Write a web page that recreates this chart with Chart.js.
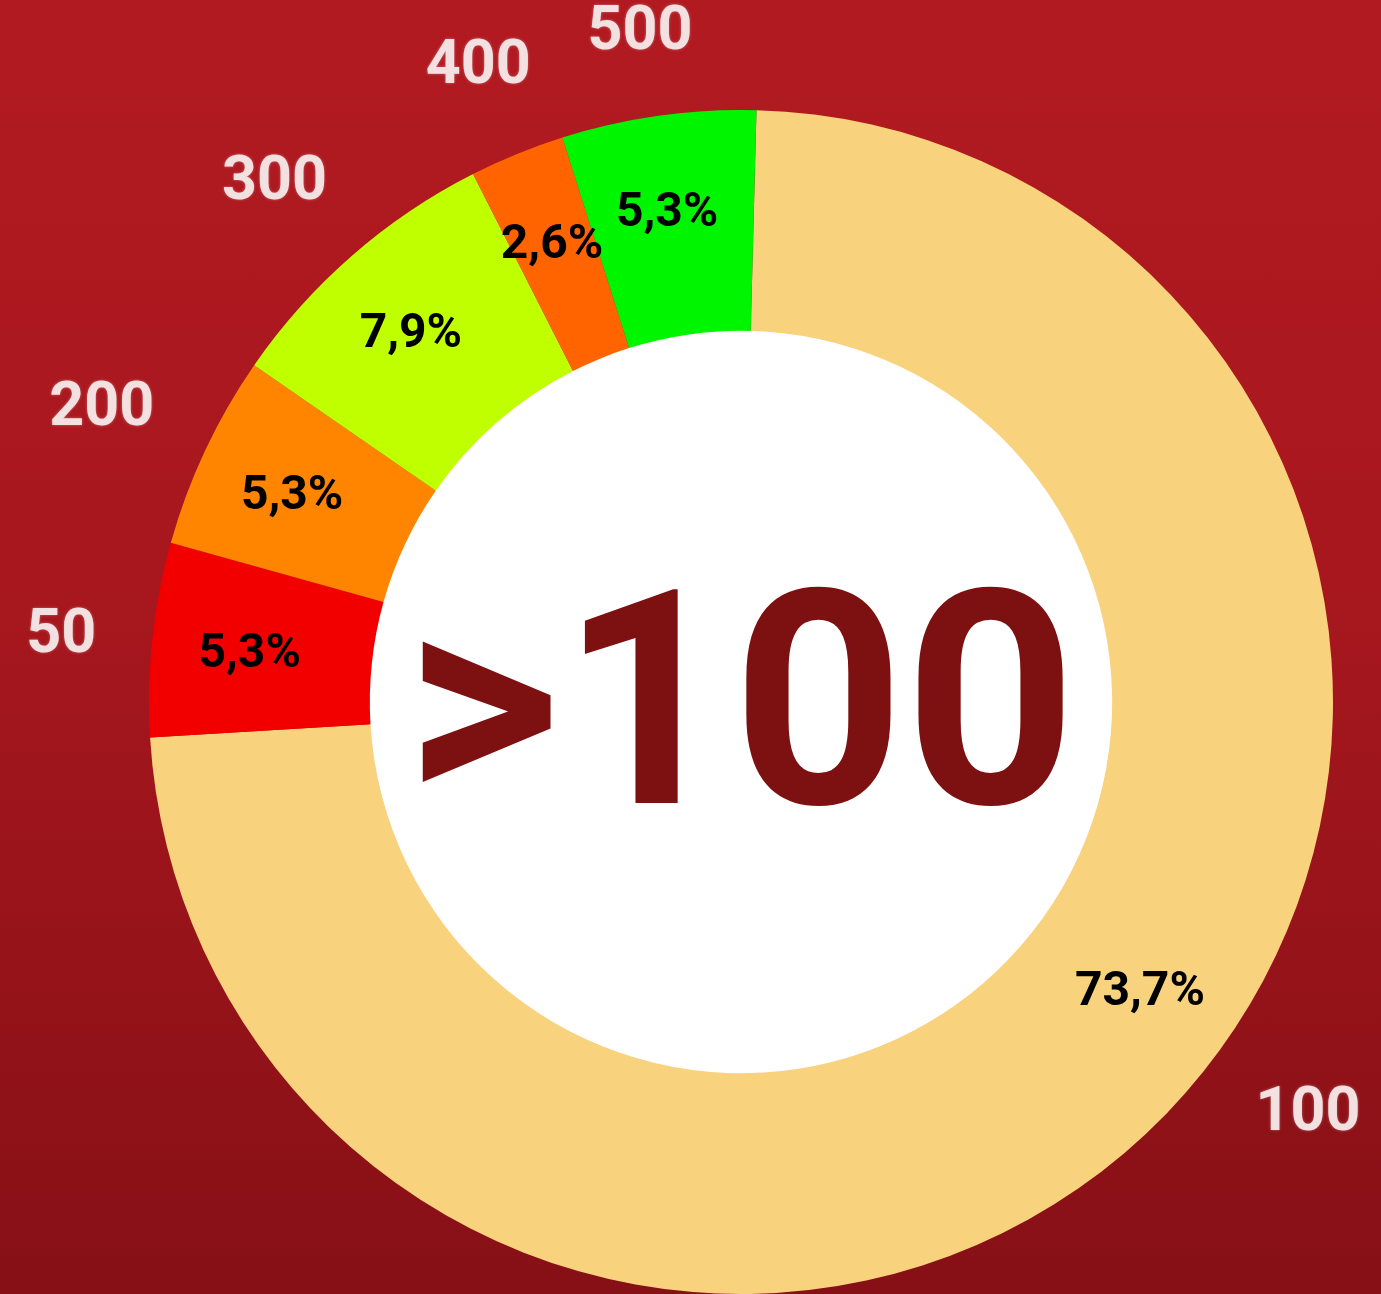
<!DOCTYPE html>
<html>
<head>
<meta charset="utf-8">
<script src="https://cdn.jsdelivr.net/npm/chart.js@4/dist/chart.umd.min.js"></script>
<style>
  html, body { margin: 0; padding: 0; }
  body {
    width: 1381px; height: 1294px; overflow: hidden;
    background: linear-gradient(to bottom, #b21a21 0%, #a8171e 45%, #861016 100%);
  }
  #wrap { position: relative; width: 1381px; height: 1294px; }
</style>
</head>
<body>
<div id="wrap"><canvas id="grafico"></canvas></div>
<script>
    // Datos
    const categorias = ['100', '50', '200', '300', '400', '500'];
    const porcentajes = [73.7, 5.3, 5.3, 7.9, 2.6, 5.3];
    const colores = ['#f8d27c', '#f20000', '#ff8500', '#bfff00', '#ff6400', '#00f500'];
    const textoCentro = '>100';

    // Circulo blanco + texto central + etiquetas
    const centro = {
      id: 'centro',
      beforeDatasetsDraw(chart) {
        const arc = chart.getDatasetMeta(0).data[0];
        const c = chart.ctx;
        c.save();
        c.beginPath();
        c.arc(arc.x, arc.y, arc.innerRadius + 1, 0, Math.PI * 2);
        c.fillStyle = '#ffffff';
        c.fill();
        c.restore();
      },
      afterDatasetsDraw(chart) {
        const meta = chart.getDatasetMeta(0);
        const c = chart.ctx;
        const a0 = meta.data[0];
        c.save();
        c.fillStyle = '#7d1010';
        c.font = 'bold 300px Roboto';
        c.textAlign = 'center';
        c.textBaseline = 'middle';
        c.fillText(textoCentro, a0.x, a0.y + 26);

        meta.data.forEach(function(arc, i) {
          const ang = arc.startAngle + (arc.endAngle - arc.startAngle) * 0.47;
          const cos = Math.cos(ang), sin = Math.sin(ang);
          // porcentaje dentro del anillo
          const rIn = (arc.innerRadius + arc.outerRadius) / 2 + 12;
          c.fillStyle = '#000000';
          c.font = 'bold 48px Roboto';
          c.fillText(porcentajes[i].toFixed(1).replace('.', ',') + '%', arc.x + cos * rIn, arc.y + sin * rIn);
          // etiqueta exterior (separada del borde segun el tamaño del texto)
          c.font = 'bold 61px Roboto';
          const hw = c.measureText(categorias[i]).width / 2;
          const hh = 22;
          const rOut = arc.outerRadius + 54 + Math.abs(cos) * hw + Math.abs(sin) * hh;
          c.fillStyle = '#f3e1e1';
          c.shadowColor = 'rgba(255,255,255,0.35)';
          c.shadowBlur = 3;
          c.fillText(categorias[i], arc.x + cos * rOut, arc.y + sin * rOut);
          c.shadowBlur = 0;
        });
        c.restore();
      }
    };

    const ctx = document.getElementById('grafico').getContext('2d');
    const chart = new Chart(ctx, {
      type: 'doughnut',
      data: {
        labels: categorias,
        datasets: [{
          data: porcentajes,
          backgroundColor: colores,
          borderWidth: 0
        }]
      },
      options: {
        responsive: true,
        maintainAspectRatio: false,
        animation: false,
        cutout: '62.7%',
        rotation: 1.5,
        layout: {
          padding: { left: 149, top: 110, right: 48, bottom: 0 }
        },
        plugins: {
          legend: { display: false },
          tooltip: { enabled: false }
        }
      },
      plugins: [centro]
    });
</script>
</body>
</html>
